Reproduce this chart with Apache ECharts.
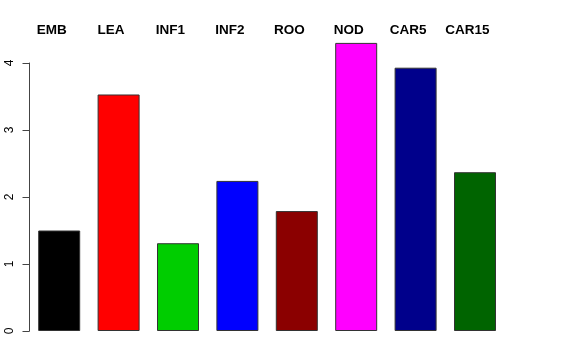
<!DOCTYPE html>
<html>
<head>
<meta charset="utf-8">
<script src="https://cdn.jsdelivr.net/npm/echarts@6/dist/echarts.min.js"></script>
<style>html,body{margin:0;padding:0;background:#fff;}#c{width:576px;height:360px;}</style>
</head>
<body>
<div id="c"></div>
<script>
var categories = ['EMB', 'LEA', 'INF1', 'INF2', 'ROO', 'NOD', 'CAR5', 'CAR15'];
var values = [1.50, 3.53, 1.31, 2.24, 1.79, 4.30, 3.93, 2.37];
var barColors = ['#000000', '#FF0000', '#00CD00', '#0000FF', '#8B0000', '#FF00FF', '#00008B', '#006400'];
var yTicks = [0, 1, 2, 3, 4];

var chart = echarts.init(document.getElementById('c'), null, {renderer: 'canvas'});
chart.setOption({
  animation: false,
  backgroundColor: '#ffffff',
  grid: {left: 29.5, top: 63, width: 475.2, height: 268, containLabel: false},
  xAxis: {
    type: 'category',
    data: categories,
    position: 'top',
    axisLine: {show: false},
    axisTick: {show: false},
    axisLabel: {
      margin: 26,
      fontFamily: 'Liberation Sans',
      fontWeight: 'bold',
      fontSize: 13.5,
      color: '#000',
      padding: [0, 15, 0, 0]
    }
  },
  yAxis: {
    type: 'value',
    min: yTicks[0],
    max: yTicks[yTicks.length - 1],
    interval: 1,
    splitLine: {show: false},
    axisLine: {show: true, lineStyle: {color: '#444', width: 1}},
    axisTick: {show: true, length: 7, lineStyle: {color: '#444', width: 1}},
    axisLabel: {
      rotate: 90,
      margin: 14,
      fontFamily: 'Liberation Sans',
      fontSize: 12,
      color: '#000'
    }
  },
  series: [{
    type: 'bar',
    data: values.map(function (v, i) {
      return {value: v, itemStyle: {color: barColors[i]}};
    }),
    barWidth: 42,
    clip: false,
    itemStyle: {borderColor: '#333', borderWidth: 1}
  }]
});
</script>
</body>
</html>
